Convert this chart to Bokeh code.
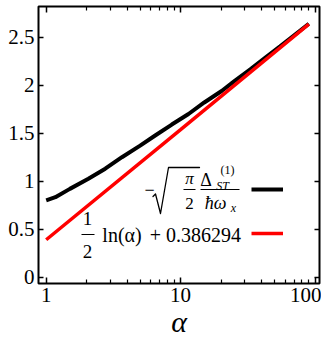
from bokeh.plotting import figure
from bokeh.models import (LogAxis, LinearAxis, FixedTicker, Range1d, Legend, LegendItem,
                          Label, BoxAnnotation, PolyAnnotation)
from bokeh.embed import file_html
from bokeh.resources import INLINE

# ---- data ----
alpha_exact = [1.0, 1.17, 1.5, 2.06, 2.75, 3.66, 5.0, 6.47, 8.6, 11.45, 15.0,
               20.2, 25.0, 33.0, 43.0, 55.0, 70.0, 90.0]
delta_exact = [0.80, 0.833, 0.92, 1.025, 1.13, 1.25, 1.37, 1.476, 1.59, 1.70, 1.82,
               1.94, 2.04, 2.165, 2.29, 2.405, 2.52, 2.64]
alpha_asym = [1.0, 10.0, 90.0]
asym_vals = [0.39, 1.537, 2.636]

x_major = [1, 10, 100]
x_labels = ["1", "10", "100"]
x_minor = [2, 3, 4, 5, 6, 7, 8, 9, 20, 30, 40, 50, 60, 70, 80, 90]
y_major = [0, 0.5, 1, 1.5, 2, 2.5]
y_labels = ["0", "0.5", "1", "1.5", "2", "2.5"]

# ---- geometry (page pixels) ----
SHIFT = 6   # measured offset between requested borders and rendered frame
FRAME_L, FRAME_R, FRAME_T, FRAME_B = 40, 321, 10, 287
X1_PX, DEC_PX = 47.7, 134.4     # page x of alpha=1, pixels per decade
Y0_PX, UNIT_PX = 280.7, 96.0    # page y of 0, pixels per unit


def px_x(px):
    return 10 ** ((px - X1_PX) / DEC_PX)


def px_y(py):
    return (Y0_PX - py) / UNIT_PX


SERIF = "Liberation Serif"

p = figure(frame_width=FRAME_R - FRAME_L, frame_height=FRAME_B - FRAME_T,
           x_axis_type="log",
           x_range=Range1d(px_x(FRAME_L), px_x(FRAME_R)),
           y_range=Range1d(px_y(FRAME_B), px_y(FRAME_T)),
           output_backend="svg", toolbar_location=None,
           min_border_left=FRAME_L - 8 + SHIFT, min_border_top=FRAME_T - 8 + SHIFT - 2,
           min_border_right=2, min_border_bottom=44)
p.outline_line_color = "black"
p.outline_line_width = 2
p.grid.visible = False
p.background_fill_color = "white"
p.border_fill_color = "white"

xt = FixedTicker(ticks=x_major, minor_ticks=x_minor)
yt = FixedTicker(ticks=y_major, minor_ticks=[])


def style(ax, major_len, labels=None):
    ax.ticker = xt if major_len == 6 else yt
    ax.axis_line_color = None
    ax.major_tick_in = major_len
    ax.major_tick_out = 0
    ax.minor_tick_in = 4
    ax.minor_tick_out = 0
    ax.major_tick_line_width = 1.5
    ax.minor_tick_line_width = 1.2
    ax.major_tick_line_color = "black"
    ax.minor_tick_line_color = "black"
    ax.major_label_text_font = SERIF
    ax.major_label_text_font_size = "21px"
    ax.major_label_text_color = "black"
    ax.major_label_standoff = 4
    if labels is None:
        ax.major_label_text_font_size = "1px"
        ax.major_label_text_color = None
        ax.major_label_standoff = 0
    else:
        ticks = x_major if major_len == 6 else y_major
        ax.major_label_overrides = {t: s for t, s in zip(ticks, labels)}


style(p.xaxis[0], 6, x_labels)
style(p.yaxis[0], 5, y_labels)
p.xaxis[0].axis_label = "α"
p.xaxis[0].axis_label_text_font = SERIF
p.xaxis[0].axis_label_text_font_size = "30px"
p.xaxis[0].axis_label_text_font_style = "italic"
p.xaxis[0].axis_label_text_color = "black"
p.xaxis[0].axis_label_standoff = 0

top_ax = LogAxis()
style(top_ax, 6)
p.add_layout(top_ax, "above")
right_ax = LinearAxis()
style(right_ax, 5)
p.add_layout(right_ax, "right")

r_black = p.line(alpha_exact, delta_exact, line_color="black", line_width=4)
r_red = p.line(alpha_asym, asym_vals, line_color="#ff0000", line_width=3.5)

legend = Legend(items=[LegendItem(label=" ", renderers=[r_black]),
                       LegendItem(label=" ", renderers=[r_red])],
                location=(253 - FRAME_L, FRAME_B - 247),
                glyph_width=32, glyph_height=20, label_height=20, spacing=24,
                padding=0, margin=0, border_line_color=None,
                background_fill_alpha=0, label_width=0, label_standoff=0,
                label_text_font_size="10px", label_text_color=None)
p.add_layout(legend)


def lab(text, x, y, size, italic=False, align="center"):
    p.add_layout(Label(x=px_x(x), y=px_y(y), text=text, text_font=SERIF,
                       text_font_size=f"{size}px", text_color="black",
                       text_font_style="italic" if italic else "normal",
                       text_align=align, text_baseline="middle"))


def bar(x0, x1, y):
    p.add_layout(BoxAnnotation(left=px_x(x0), right=px_x(x1),
                               top=px_y(y - 0.6), bottom=px_y(y + 0.6),
                               fill_color="black", fill_alpha=1, line_color=None))


# first legend label:  -sqrt(pi/2) Delta_ST^(1) / (hbar omega_x)
lab("−", 151, 193, 18)
rad_px = [(154.5, 200), (157, 197.5), (162, 217), (170, 171), (201, 171)]
trace = rad_px + rad_px[-2:0:-1]
p.add_layout(PolyAnnotation(xs=[px_x(a) for a, b in trace], ys=[px_y(b) for a, b in trace],
                            fill_alpha=0, line_color="black", line_alpha=1, line_width=1.3,
                            line_join="round"))
lab("π", 191, 182, 17, italic=True)
bar(185, 197, 193)
lab("2", 191, 207, 17)
lab("Δ", 207.5, 183, 18)
lab("(1)", 229, 173, 12)
lab("ST", 224, 189, 12, italic=True)
bar(202, 241, 193)
lab("ħω", 217, 206, 18, italic=True)
lab("x", 235, 211, 12, italic=True)

# second legend label:  1/2 ln(alpha) + 0.386294
lab("1", 89, 222, 19)
bar(83, 96, 238)
lab("2", 89, 255, 19)
lab("ln(α)", 123.5, 238, 20)
lab("+", 157, 238, 20)
lab("0.386294", 205, 238, 20)

open("out.html", "w").write(file_html(p, INLINE))
